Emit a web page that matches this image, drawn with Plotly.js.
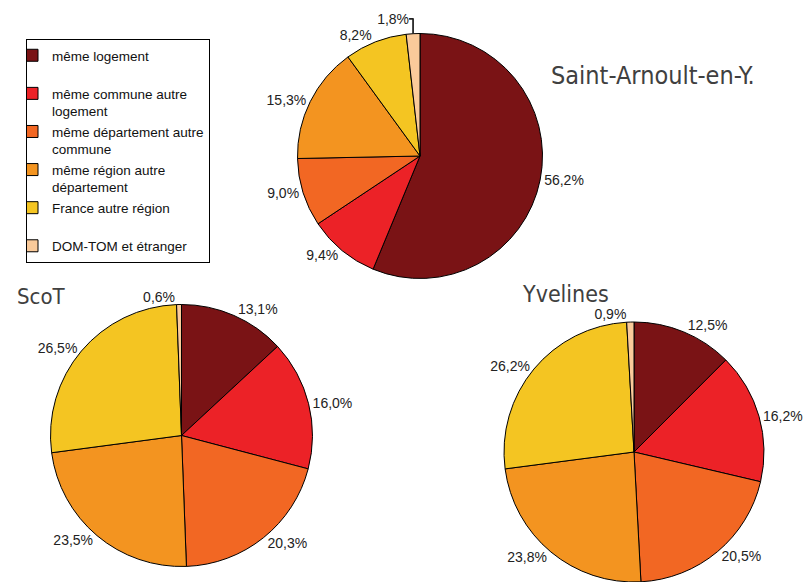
<!DOCTYPE html>
<html>
<head>
<meta charset="utf-8">
<script src="https://cdn.plot.ly/plotly-3.0.1.min.js"></script>
<style>html,body{margin:0;padding:0;background:#fff}#chart{width:808px;height:582px}</style>
</head>
<body>
<div id="chart"></div>
<script>
var categories = [
  "même logement<br>\u00a0",
  "même commune autre<br>logement",
  "même département autre<br>commune",
  "même région autre<br>département",
  "France autre région<br>\u00a0",
  "DOM-TOM et étranger"
];
var colors = ["#7A1315", "#EC2227", "#F26723", "#F39420", "#F4C522", "#FACA9A"];
var saintArnoult = [56.2, 9.4, 9.0, 15.3, 8.2, 1.8];
var scot = [13.1, 16.0, 20.3, 23.5, 26.5, 0.6];
var yvelines = [12.5, 16.2, 20.5, 23.8, 26.2, 0.9];
var pieTitles = ["Saint-Arnoult-en-Y.", "ScoT", "Yvelines"];

var W = 808, H = 582;
function dom(cx, cy, r) {
  return {x: [(cx - r) / W, (cx + r) / W], y: [1 - (cy + r) / H, 1 - (cy - r) / H]};
}
function pie(vals, d, showleg) {
  return {
    type: "pie", labels: categories, values: vals, domain: d,
    sort: false, direction: "clockwise", rotation: 0,
    marker: {colors: colors, line: {color: "#000", width: 1}},
    textposition: "outside", texttemplate: "%{value:.1f}%",
    outsidetextfont: {family: "Liberation Sans, Arial, sans-serif", size: 14, color: "#222"},
    showlegend: showleg, automargin: false, hoverinfo: "label+value"
  };
}
var data = [
  pie(saintArnoult, dom(420, 156, 122.5), true),
  pie(scot, dom(181.5, 435.5, 131), false),
  pie(yvelines, dom(634, 452, 130), false)
];
var tfam = "DejaVu Sans Condensed, DejaVu Sans, sans-serif";
var layout = {
  width: W, height: H,
  margin: {l: 0, r: 0, t: 0, b: 0},
  paper_bgcolor: "#fff",
  separators: ", ",
  showlegend: true,
  legend: {
    x: 26 / W, y: 1 - 39 / H, xanchor: "left", yanchor: "top",
    bordercolor: "#000", borderwidth: 1, bgcolor: "#fff",
    font: {family: "Liberation Sans, Arial, sans-serif", size: 13.5, color: "#111"},
    valign: "top", itemwidth: 30, traceorder: "normal", indentation: -15
  },
  annotations: [
    {text: pieTitles[0], x: 549 / W, y: 1 - 76 / H, xref: "paper", yref: "paper", xanchor: "left", yanchor: "middle", showarrow: false, font: {family: tfam, size: 25, color: "#404040"}},
    {text: pieTitles[1], x: 15 / W, y: 1 - 296 / H, xref: "paper", yref: "paper", xanchor: "left", yanchor: "middle", showarrow: false, font: {family: tfam, size: 22, color: "#404040"}},
    {text: pieTitles[2], x: 520 / W, y: 1 - 294 / H, xref: "paper", yref: "paper", xanchor: "left", yanchor: "middle", showarrow: false, font: {family: tfam, size: 23, color: "#404040"}}
  ]
};
Plotly.newPlot("chart", data, layout, {displayModeBar: false, staticPlot: true});
</script>
</body>
</html>
